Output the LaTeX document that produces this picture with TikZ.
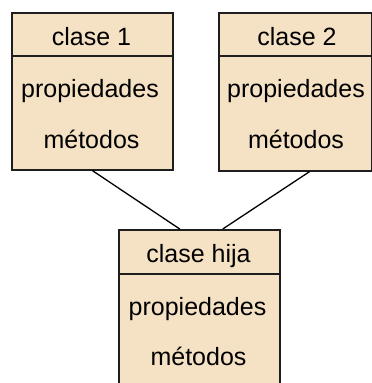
\documentclass[tikz,border=0pt]{standalone}
\usepackage{fontspec}
\setmainfont{Liberation Sans}
\usetikzlibrary{calc}
\definecolor{fillc}{HTML}{F5E1C4}
\definecolor{linec}{HTML}{1E1E1E}
\begin{document}
\begin{tikzpicture}[x=1pt,y=-1pt,
  cls/.style={draw=linec, fill=fillc, line width=1.5pt, inner sep=0pt, anchor=north west},
  txt/.style={font=\fontsize{25}{28}\selectfont, inner sep=0pt, anchor=base},
  div/.style={draw=linec, line width=1.5pt},
  conn/.style={draw=black, line width=1.3pt}]
\useasboundingbox (0,0) rectangle (372,383);
\clip (0,0) rectangle (372,383);
% boxes
\node[cls, minimum width=161pt, minimum height=157pt] (b1) at (11,12) {};
\node[cls, minimum width=153pt, minimum height=158pt] (b2) at (218,12) {};
\node[cls, minimum width=161pt, minimum height=165pt] (b3) at (118,229) {};
% dividers
\draw[div] (b1.west |- 0,56) coordinate (d1a) -- (b1.east |- 0,56) coordinate (d1b);
\draw[div] (b2.west |- 0,56) coordinate (d2a) -- (b2.east |- 0,56) coordinate (d2b);
\draw[div] (b3.west |- 0,274) coordinate (d3a) -- (b3.east |- 0,274) coordinate (d3b);
% texts
\node[txt] (t1a) at (91.5,45) {clase 1};
\node[txt] (t1b) at (90,97) {propiedades};
\node[txt] (t1c) at (91.5,148) {métodos};
\node[txt] (t2a) at (297,45) {clase 2};
\node[txt] (t2b) at (296,97) {propiedades};
\node[txt] (t2c) at (296,148) {métodos};
\node[txt] (t3a) at (198.5,262) {clase hija};
\node[txt] (t3b) at (197.5,315) {propiedades};
\node[txt] (t3c) at (198.5,365) {métodos};
% connectors
\draw[conn] (b1.south) -- ($(b3.north)+(-19.5,0)$);
\draw[conn] ($(b2.south)+(14.5,0)$) -- ($(b3.north)+(23.5,0)$);
\end{tikzpicture}
\end{document}
